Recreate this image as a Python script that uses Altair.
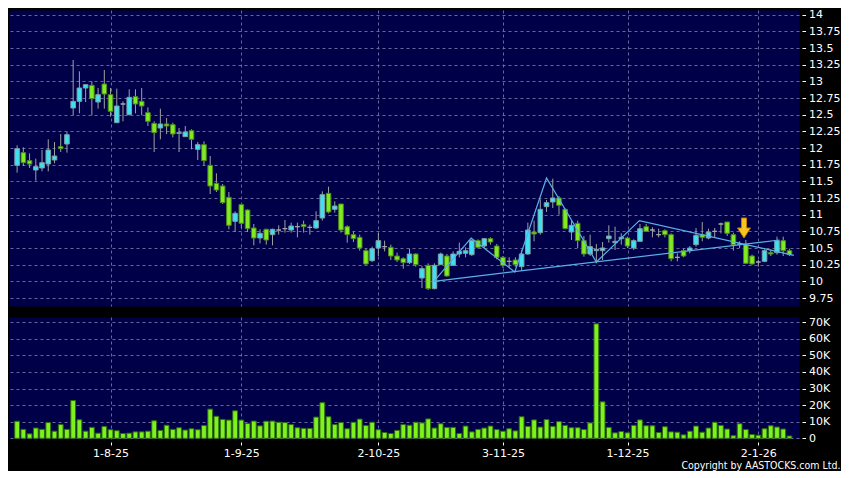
import json
import altair as alt
import pandas as pd

# ---------------- data ----------------
tick_idx = [15, 36, 58, 78, 98, 119]
tick_labels = ["1-8-25", "1-9-25", "2-10-25", "3-11-25", "1-12-25", "2-1-26"]

price_ticks = [9.75, 10, 10.25, 10.5, 10.75, 11, 11.25, 11.5, 11.75, 12,
               12.25, 12.5, 12.75, 13, 13.25, 13.5, 13.75, 14]
vol_ticks = [0, 10, 20, 30, 40, 50, 60, 70]

opens = [11.74, 11.93, 11.81, 11.67, 11.70, 11.76, 11.82, 12.02, 12.06, 12.60,
         12.70, 12.90, 12.94, 12.69, 12.96, 12.80, 12.38, 12.66, 12.50, 12.77,
         12.70, 12.53, 12.37, 12.30, 12.36, 12.35, 12.22, 12.17, 12.26, 11.98,
         12.05, 11.74, 11.47, 11.43, 11.26, 10.90, 11.15, 11.07, 10.80, 10.65,
         10.78, 10.70, 10.77, 10.79, 10.77, 10.82, 10.85, 10.81, 10.80, 10.95,
         11.32, 11.08, 11.16, 10.82, 10.70, 10.66, 10.46, 10.31, 10.50, 10.52,
         10.51, 10.38, 10.34, 10.28, 10.41, 10.05, 10.24, 9.89, 10.25, 10.38,
         10.24, 10.41, 10.42, 10.40, 10.61, 10.53, 10.64, 10.53, 10.36, 10.30,
         10.32, 10.22, 10.41, 10.74, 10.73, 11.12, 11.19, 11.25, 11.08, 10.74,
         10.87, 10.61, 10.41, 10.46, 10.46, 10.64, 10.58, 10.64, 10.65, 10.50,
         10.60, 10.82, 10.77, 10.70, 10.76, 10.70, 10.36, 10.46, 10.46, 10.55,
         10.70, 10.65, 10.75, 10.86, 10.89, 10.70, 10.56, 10.55, 10.38, 10.29,
         10.30, 10.43, 10.43, 10.61, 10.46]
highs = [12.04, 12.01, 11.92, 11.84, 11.97, 12.13, 12.09, 12.21, 12.24, 13.32,
         13.15, 12.95, 13.00, 12.90, 13.17, 12.90, 12.89, 12.70, 12.88, 12.88,
         12.90, 12.61, 12.40, 12.59, 12.45, 12.38, 12.30, 12.33, 12.28, 12.09,
         12.10, 11.88, 11.62, 11.46, 11.34, 11.05, 11.15, 11.08, 10.86, 10.78,
         10.79, 10.79, 10.84, 10.92, 10.88, 10.88, 10.91, 10.85, 11.05, 11.35,
         11.42, 11.20, 11.16, 10.84, 10.75, 10.70, 10.49, 10.52, 10.73, 10.61,
         10.55, 10.43, 10.36, 10.49, 10.42, 10.23, 10.27, 10.27, 10.43, 10.41,
         10.45, 10.58, 10.51, 10.63, 10.63, 10.65, 10.66, 10.56, 10.38, 10.36,
         10.36, 10.47, 10.88, 10.91, 11.23, 11.22, 11.54, 11.28, 11.09, 10.91,
         10.91, 10.68, 10.70, 10.56, 10.59, 10.84, 10.82, 10.72, 10.67, 10.63,
         10.86, 10.86, 10.81, 10.79, 10.78, 10.72, 10.42, 10.49, 10.53, 10.80,
         10.89, 10.79, 10.80, 10.88, 10.89, 10.73, 10.60, 10.62, 10.40, 10.32,
         10.48, 10.48, 10.67, 10.67, 10.49]
lows = [11.63, 11.73, 11.70, 11.51, 11.65, 11.65, 11.77, 11.94, 11.93, 12.49,
        12.52, 12.69, 12.49, 12.59, 12.59, 12.47, 12.38, 12.40, 12.49, 12.52,
        12.49, 12.33, 11.94, 12.13, 12.21, 12.16, 11.94, 12.17, 11.98, 11.82,
        11.74, 11.31, 11.34, 11.16, 10.78, 10.74, 10.80, 10.74, 10.54, 10.57,
        10.55, 10.54, 10.70, 10.73, 10.73, 10.66, 10.73, 10.70, 10.79, 10.91,
        11.02, 11.03, 10.73, 10.58, 10.59, 10.46, 10.25, 10.29, 10.38, 10.45,
        10.32, 10.29, 10.19, 10.26, 10.22, 9.90, 9.87, 9.88, 10.25, 10.07,
        10.23, 10.36, 10.36, 10.38, 10.49, 10.50, 10.55, 10.33, 10.20, 10.21,
        10.22, 10.16, 10.40, 10.60, 10.70, 11.04, 11.10, 11.00, 10.78, 10.62,
        10.50, 10.37, 10.38, 10.27, 10.32, 10.58, 10.47, 10.55, 10.50, 10.47,
        10.60, 10.74, 10.66, 10.66, 10.66, 10.30, 10.30, 10.36, 10.42, 10.52,
        10.60, 10.63, 10.65, 10.72, 10.68, 10.46, 10.50, 10.26, 10.25, 10.22,
        10.29, 10.38, 10.40, 10.38, 10.38]
closes = [11.99, 11.78, 11.76, 11.72, 11.78, 11.97, 11.88, 11.99, 12.20, 12.70,
          12.90, 12.95, 12.74, 12.80, 12.81, 12.55, 12.63, 12.66, 12.76, 12.66,
          12.63, 12.40, 12.23, 12.36, 12.33, 12.21, 12.23, 12.24, 12.13, 12.05,
          11.81, 11.43, 11.37, 11.18, 10.84, 11.02, 10.87, 10.79, 10.65, 10.72,
          10.62, 10.78, 10.77, 10.79, 10.83, 10.82, 10.82, 10.81, 10.91, 11.30,
          11.04, 11.13, 10.77, 10.70, 10.64, 10.50, 10.26, 10.49, 10.61, 10.52,
          10.38, 10.32, 10.28, 10.41, 10.25, 10.19, 9.89, 10.24, 10.41, 10.08,
          10.41, 10.45, 10.46, 10.61, 10.51, 10.64, 10.59, 10.36, 10.24, 10.30,
          10.25, 10.41, 10.77, 10.71, 11.08, 11.18, 11.25, 11.14, 10.79, 10.84,
          10.61, 10.41, 10.52, 10.48, 10.50, 10.68, 10.60, 10.66, 10.53, 10.61,
          10.79, 10.75, 10.77, 10.70, 10.70, 10.34, 10.36, 10.38, 10.50, 10.69,
          10.66, 10.74, 10.75, 10.86, 10.72, 10.55, 10.56, 10.27, 10.26, 10.29,
          10.46, 10.41, 10.61, 10.46, 10.40]
volumes_k = [10.3, 5.4, 2.7, 6.2, 5.4, 9.5, 4.3, 8.3, 5.4, 22.8,
             11.2, 4.3, 6.6, 3.1, 7.2, 5.2, 4.6, 2.9, 3.1, 3.9,
             3.9, 4.3, 10.6, 4.8, 7.9, 5.4, 6.4, 5.0, 5.8, 5.2,
             7.7, 17.6, 13.3, 11.4, 11.0, 16.6, 11.0, 8.9, 10.4, 7.5,
             10.3, 10.4, 9.7, 9.5, 8.3, 6.4, 6.0, 6.0, 12.8, 21.5,
             13.0, 8.3, 9.5, 5.8, 9.7, 11.6, 7.7, 9.7, 5.2, 3.5,
             2.9, 4.8, 8.3, 7.9, 9.7, 9.3, 11.7, 6.2, 8.8, 6.6,
             6.6, 2.9, 7.4, 3.9, 5.4, 6.2, 7.4, 5.3, 4.3, 5.8,
             4.5, 13.0, 7.2, 11.1, 6.8, 11.3, 7.2, 10.1, 7.8, 6.4,
             6.4, 5.3, 9.3, 69.0, 22.0, 6.6, 3.3, 4.1, 3.3, 7.8,
             11.1, 7.6, 7.6, 3.5, 7.0, 3.9, 3.7, 2.1, 4.3, 7.4,
             3.7, 6.2, 9.7, 7.8, 5.6, 1.6, 8.8, 5.3, 2.3, 1.9,
             5.8, 7.6, 6.8, 5.6, 1.4]

# trend lines drawn on the chart (candle index, price)
zig_i = [66.9, 72.9, 79.9, 85.0, 93.0, 99.9, 124.7]
zig_p = [10.00, 10.65, 10.14, 11.55, 10.29, 10.91, 10.39]
base_i = [66.9, 122.4]
base_p = [10.00, 10.62]
arrow_i = [116.7]
arrow_p = [10.80]

# ---------------- styling ----------------
NAVY = "#000048"
GRID = "#7272a4"
CYAN = "#3fe0f2"
CYAN_EDGE = "#7c9ea4"
LIME = "#80ea22"
LIME_EDGE = "#4a8a1a"
GRAY = "#a8a8a8"
WICK = "#a0a0a0"
VOL = "#7df21e"
VOL_EDGE = "#2f6a0e"
LINE = "#5ab0e6"
FONT = "DejaVu Sans"

W = 790
H1 = 296
H2 = 122

n = len(opens)
assert all(len(a) == n for a in (highs, lows, closes, volumes_k))
dirs = ["up" if c > o else ("down" if c < o else "flat") for o, c in zip(opens, closes)]
candles = pd.DataFrame({"i": list(range(n)), "open": opens, "high": highs, "low": lows,
                        "close": closes, "vol": volumes_k, "dir": dirs})
lines_df = pd.DataFrame({
    "i": zig_i + base_i,
    "p": zig_p + base_p,
    "g": ["zig"] * len(zig_i) + ["base"] * len(base_i),
    "k": list(range(len(zig_i))) + list(range(len(base_i))),
})
arrow_df = pd.DataFrame({"i": arrow_i, "p": arrow_p})

x_scale = alt.Scale(domain=[-0.5, 124.73], nice=False, zero=False)
p_scale = alt.Scale(domain=[9.63, 14.07], nice=False, zero=False)
v_scale = alt.Scale(domain=[-0.4, 73.1], nice=False, zero=False)

x_top_axis = alt.Axis(values=tick_idx, labels=False, ticks=False, domain=False,
                      grid=True, title=None)
p_axis = alt.Axis(orient="right", values=price_ticks, format=".6~g", title=None,
                  domain=False, grid=True, ticks=True, tickSize=3.5, tickColor="white",
                  offset=3, labelPadding=3)

label_expr = "{}[indexof({}, datum.value)]".format(json.dumps(tick_labels).replace('"', "'"),
                                                   json.dumps(tick_idx))
x_bot_axis = alt.Axis(values=tick_idx, labelExpr=label_expr, title=None, domain=False,
                      grid=True, ticks=True, tickSize=3, tickColor="white", offset=3,
                      labelPadding=2)
v_axis = alt.Axis(orient="right", values=vol_ticks, title=None, domain=False, grid=True,
                  labelExpr="datum.value == 0 ? '0' : datum.value + 'K'",
                  ticks=True, tickSize=3.5, tickColor="white", offset=3, labelPadding=3)


def xt():
    return alt.X("i:Q", scale=x_scale, axis=x_top_axis)


def yp(field):
    return alt.Y(field, scale=p_scale, axis=p_axis)


wicks = alt.Chart(candles).mark_rule(color=WICK, strokeWidth=1).encode(
    x=xt(), y=yp("low:Q"), y2="high:Q")

bodies = alt.Chart(candles).mark_bar(size=4.6, strokeWidth=1, opacity=1).encode(
    x=xt(), y=yp("open:Q"), y2="close:Q",
    fill=alt.Fill("dir:N", scale=alt.Scale(domain=["up", "down", "flat"],
                                           range=[CYAN, LIME, GRAY]), legend=None),
    stroke=alt.Stroke("dir:N", scale=alt.Scale(domain=["up", "down", "flat"],
                                               range=[CYAN_EDGE, LIME_EDGE, GRAY]), legend=None),
)

trend = alt.Chart(lines_df).mark_line(color=LINE, strokeWidth=1.2).encode(
    x=xt(), y=yp("p:Q"), detail="g:N", order="k:Q")

ARROW_PATH = "M -0.25 -1 L 0.25 -1 L 0.25 0 L 0.65 0 L 0 1 L -0.65 0 L -0.25 0 Z"
arrow = alt.Chart(arrow_df).mark_point(shape=ARROW_PATH, size=400, filled=True,
                                       fill="#f7c51e", stroke="#c27c00", strokeWidth=1,
                                       opacity=1).encode(x=xt(), y=yp("p:Q"))

top = alt.layer(wicks, bodies, trend, arrow).properties(width=W, height=H1)

bottom = alt.Chart(candles).mark_bar(size=4.8, color=VOL, stroke=VOL_EDGE,
                                     strokeWidth=1, opacity=1).encode(
    x=alt.X("i:Q", scale=x_scale, axis=x_bot_axis),
    y=alt.Y("vol:Q", scale=v_scale, axis=v_axis),
    y2=alt.datum(0),
).properties(width=W, height=H2)

chart = alt.vconcat(
    top, bottom, spacing=8,
    title=alt.TitleParams("Copyright by AASTOCKS.com Ltd.", orient="bottom", anchor="end",
                          color="white", fontSize=10.5, font="DejaVu Sans Condensed",
                          fontWeight="normal", offset=2),
).resolve_scale(x="independent", y="independent").properties(
    background="black", padding=0
).configure_view(fill=NAVY, stroke="transparent").configure_axis(
    gridColor=GRID, gridDash=[3, 3], gridWidth=1, gridOpacity=0.9,
    labelColor="white", labelFont=FONT, labelFontSize=11,
)

chart.save("out.html", embed_options={"renderer": "svg", "actions": False})
